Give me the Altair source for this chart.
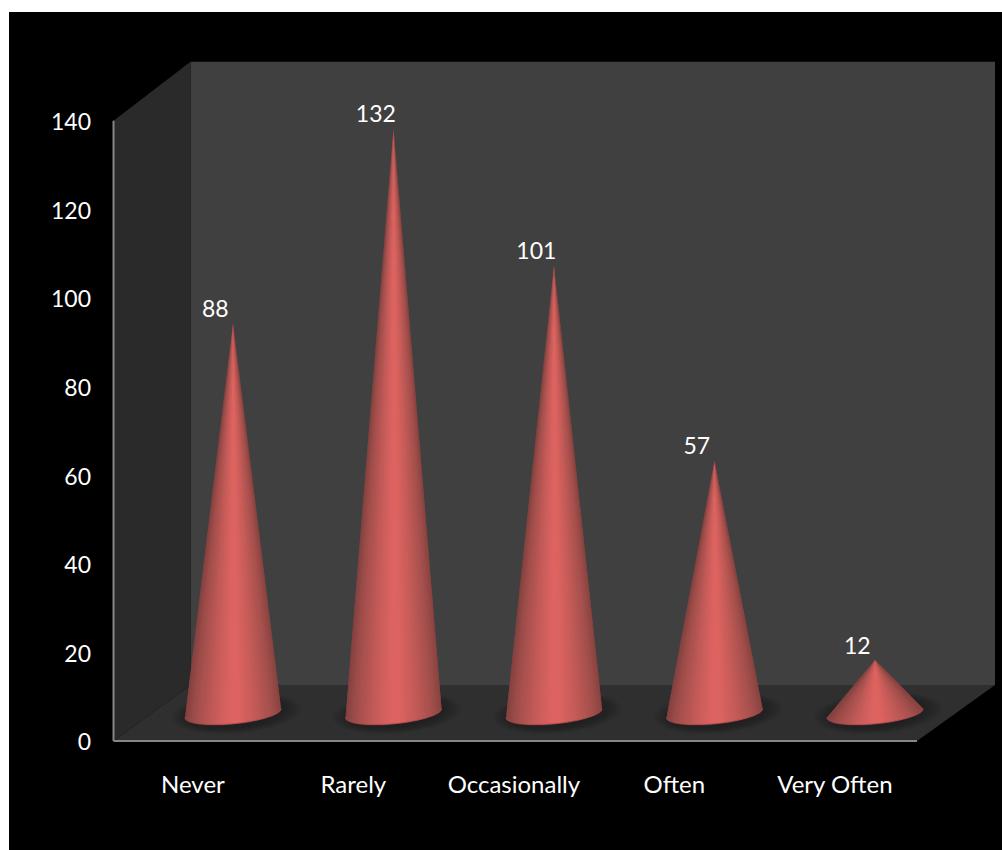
import altair as alt
import numpy as np
import pandas as pd

categories = ["Never", "Rarely", "Occasionally", "Often", "Very Often"]
responses = [88, 132, 101, 57, 12]
value_ticks = [0, 20, 40, 60, 80, 100, 120, 140]

# Chart frame, in axis units: the cones stand on the middle plane of the box,
# the axes lie on its front plane and the walls on its back plane.
FRONT_DROP = 6.32
BACK_RISE = 6.32
BACK_TOP = 147.0
FRONT_LEFT, BACK_LEFT = -0.7445, -0.2648
FRONT_RIGHT, BACK_RIGHT = 4.2617, 4.7477

# Cone proportions, in axis units.
CONE_RADIUS = 0.299
CONE_DEPTH = 2.45
CONE_TILT = 1.0

W, H = 1002, 850
PX_PER_POS, PX_PER_VALUE = 160.5, 4.43
X0, Y0 = 233.0, 713.0
x_scale = alt.Scale(domain=[-X0 / PX_PER_POS, (W - X0) / PX_PER_POS], range=[0, W], nice=False, zero=False)
y_scale = alt.Scale(domain=[(Y0 - H) / PX_PER_VALUE, Y0 / PX_PER_VALUE], range=[H, 0], nice=False, zero=False)
X = alt.X("x:Q", scale=x_scale, axis=None)
Y = alt.Y("y:Q", scale=y_scale, axis=None)
Y2 = alt.Y2("y2:Q")

# Shading across the cone from its left edge (-1) to its right edge (+1).
shade_t = [-1.0, -0.8, -0.45, -0.05, 0.15, 0.5, 0.8, 1.0]
shade_r = [132, 160, 192, 222, 220, 192, 164, 138]
shade_g = [66, 78, 90, 100, 99, 90, 80, 68]
shade_b = [64, 75, 87, 97, 96, 86, 77, 65]


def shade(t):
    r, g, b = (int(np.interp(t, shade_t, c)) for c in (shade_r, shade_g, shade_b))
    return f"#{r:02x}{g:02x}{b:02x}"


def base_point(i, phi):
    """Point on the visible front arc of a cone's tilted base ellipse."""
    s = np.sin(phi)
    return i + CONE_RADIUS * s, CONE_TILT * s - CONE_DEPTH * np.cos(phi)


def triangle_rows(pts):
    """Turn a triangle into the three columns of a vertical area."""
    a, b, c = sorted(pts)
    span = c[0] - a[0]
    mid = a[1] + (c[1] - a[1]) * (b[0] - a[0]) / span if span else b[1]
    return [(a[0], a[1], a[1]), (b[0], b[1], mid), (c[0], c[1], c[1])]


facets, rims, shadows = [], [], []
SLICES = 44
phis = np.linspace(-np.pi / 2, np.pi / 2, SLICES + 1)
for i, value in enumerate(responses):
    apex = (float(i), float(value))
    for k in range(SLICES):
        # Each facet overlaps the next one so no seams show between them.
        p0, p1 = base_point(i, phis[k]), base_point(i, phis[min(k + 2, SLICES)])
        colour = shade((np.sin(phis[k]) + np.sin(phis[k + 1])) / 2)
        for x, y, y2 in triangle_rows([apex, p0, p1]):
            facets.append(dict(x=x, y=y, y2=y2, facet=f"{i}-{k:03d}", colour=colour))
    for phi in phis:
        x, y = base_point(i, phi)
        rims.append(dict(x=x, y=y, cone=i))
    for ring, grow in enumerate(np.linspace(1.34, 0.9, 10)):
        for phi in np.linspace(-np.pi / 2, np.pi / 2, 25):
            s, c = np.sin(phi), np.cos(phi)
            shadows.append(dict(
                x=i + 0.02 + CONE_RADIUS * grow * s,
                y=CONE_TILT * s + 3.4 * grow * c,
                y2=CONE_TILT * s - 3.4 * grow * c,
                ring=f"{i}-{ring}",
            ))

# Backdrop and the three faces of the box.
backdrop = alt.Chart(pd.DataFrame({"a": [0]})).mark_rect(color="#000000").encode(
    x=alt.value(9), x2=alt.value(W), y=alt.value(12), y2=alt.value(H)
)
back_wall = alt.Chart(pd.DataFrame([
    dict(x=BACK_LEFT, y=BACK_TOP, y2=BACK_RISE),
    dict(x=BACK_RIGHT, y=BACK_TOP, y2=BACK_RISE),
])).mark_area(color="#404040").encode(x=X, y=Y, y2=Y2)
side_wall = alt.Chart(pd.DataFrame([
    dict(x=FRONT_LEFT, y=140 - FRONT_DROP, y2=-FRONT_DROP),
    dict(x=BACK_LEFT, y=BACK_TOP, y2=BACK_RISE),
])).mark_area(color="#2a2a2a").encode(x=X, y=Y, y2=Y2)
floor = alt.Chart(pd.DataFrame([
    dict(x=FRONT_LEFT, y=-FRONT_DROP, y2=-FRONT_DROP),
    dict(x=BACK_LEFT, y=BACK_RISE, y2=-FRONT_DROP),
    dict(x=FRONT_RIGHT, y=BACK_RISE, y2=-FRONT_DROP),
    dict(x=BACK_RIGHT, y=BACK_RISE, y2=BACK_RISE),
])).mark_area(color="#2f2f2f").encode(x=X, y=Y, y2=Y2)

# Axis lines on the front plane.
axis_y = alt.Chart(pd.DataFrame([
    dict(x=FRONT_LEFT, y=-FRONT_DROP), dict(x=FRONT_LEFT, y=140 - FRONT_DROP),
])).mark_line(color="#868686", strokeWidth=2).encode(x=X, y=Y, order="y:Q")
axis_x = alt.Chart(pd.DataFrame([
    dict(x=FRONT_LEFT, y=-FRONT_DROP), dict(x=FRONT_RIGHT, y=-FRONT_DROP),
])).mark_line(color="#868686", strokeWidth=2).encode(x=X, y=Y)

# Soft contact shadows: stacked translucent ellipses.
shadow_layer = alt.Chart(pd.DataFrame(shadows)).mark_area(color="#141414", opacity=0.08).encode(
    x=X, y=Y, y2=Y2, detail="ring:N"
)

# Cones as apex-to-base facets, so the shading converges at the tip.
cone_layer = alt.Chart(pd.DataFrame(facets)).mark_area().encode(
    x=X, y=Y, y2=Y2, detail="facet:N",
    fill=alt.Fill("colour:N", scale=None),
)
rim_layer = alt.Chart(pd.DataFrame(rims)).mark_line(color="#a5494a", strokeWidth=1.2, opacity=0.7).encode(
    x=X, y=Y, detail="cone:N"
)

text_font = dict(font="Lato", fontSize=24, color="#ffffff")
number_font = dict(font="Lato", fontSize=23, color="#ffffff")
tick_labels = alt.Chart(pd.DataFrame({
    "y": [t - FRONT_DROP - 0.55 for t in value_ticks], "label": [str(t) for t in value_ticks],
    "x": [FRONT_LEFT - 0.14] * len(value_ticks),
})).mark_text(align="right", baseline="middle", **number_font).encode(x=X, y=Y, text="label:N")
category_labels = alt.Chart(pd.DataFrame({
    "x": [i - 0.25 for i in range(len(categories))],
    "y": [-16.5] * len(categories),
    "label": categories,
})).mark_text(align="center", baseline="middle", **text_font).encode(x=X, y=Y, text="label:N")
value_labels = alt.Chart(pd.DataFrame({
    "x": [i - 0.11 for i in range(len(responses))],
    "y": [v + 3.0 for v in responses],
    "label": [str(v) for v in responses],
})).mark_text(align="center", baseline="middle", **number_font).encode(x=X, y=Y, text="label:N")

chart = alt.layer(
    backdrop, back_wall, side_wall, floor, axis_y, axis_x,
    shadow_layer, cone_layer, rim_layer,
    tick_labels, category_labels, value_labels,
).properties(
    width=W, height=H, padding=0, background="#ffffff",
    autosize=alt.AutoSizeParams(type="none"),
).configure_view(stroke=None)

chart.save("out.html", embed_options={"renderer": "svg", "actions": False})
